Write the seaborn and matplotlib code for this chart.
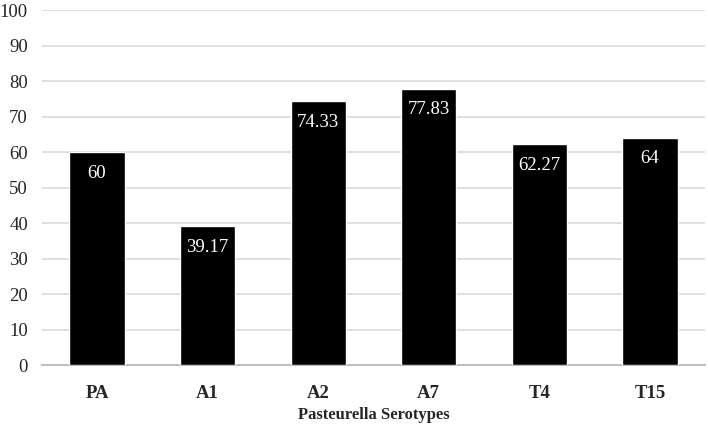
import pandas as pd
import matplotlib.pyplot as plt
import seaborn as sns

serotypes = ['PA', 'A1', 'A2', 'A7', 'T4', 'T15']
values = [60, 39.17, 74.33, 77.83, 62.27, 64]
value_labels = ['60', '39.17', '74.33', '77.83', '62.27', '64']

df = pd.DataFrame({'Serotype': serotypes, 'Value': values})

sns.set_style('white')
plt.rcParams['font.family'] = ['Liberation Serif', 'DejaVu Serif']

fig = plt.figure(figsize=(7.08, 4.24), dpi=100)
ax = fig.add_axes([0.059, 0.139, 0.937, 0.837])

sns.barplot(x='Serotype', y='Value', data=df, color='black', width=0.5,
            saturation=1, ax=ax, zorder=3)

for i, (v, lab) in enumerate(zip(values, value_labels)):
    ax.annotate(lab, (i, v), xytext=(0, -9), textcoords='offset points',
                ha='center', va='top', color='white', fontsize=13.5, zorder=4)

ax.set_ylim(0, 100)
ax.set_yticks(range(0, 101, 10))
ax.set_xlim(-0.5, 5.5)
ax.grid(axis='y', color='#d9d9d9', linewidth=1.2, zorder=0)
ax.set_axisbelow(True)
for s in ['top', 'right', 'left']:
    ax.spines[s].set_visible(False)
ax.spines['bottom'].set_color('#bfbfbf')
ax.spines['bottom'].set_linewidth(1.5)
ax.tick_params(axis='y', length=0, labelsize=13.5, pad=10)
ax.tick_params(axis='x', length=0, labelsize=13.5, pad=14)
for t in ax.get_xticklabels():
    t.set_fontweight('bold')
ax.set_ylabel('')
ax.set_xlabel('Pasteurella Serotypes', fontsize=12, fontweight='bold', labelpad=4)

fig.savefig('out.png', dpi=100)
